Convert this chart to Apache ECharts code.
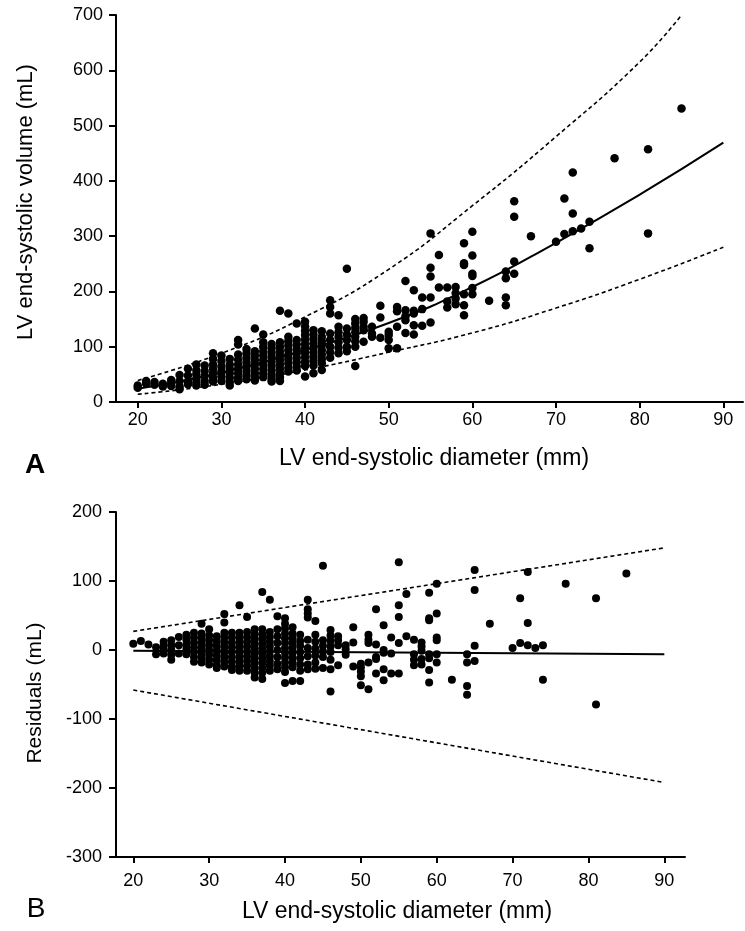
<!DOCTYPE html>
<html>
<head>
<meta charset="utf-8">
<script src="https://cdn.jsdelivr.net/npm/echarts@6/dist/echarts.min.js"></script>
<style>
  html, body { margin: 0; padding: 0; background: #fff; }
  #chart { width: 745px; height: 931px; }
</style>
</head>
<body>
<div id="chart"></div>
<script>
// panel A: LV end-systolic volume by diameter (one list of volumes per diameter)
const diamA = [20, 21, 22, 23, 24, 25, 26, 27, 28, 29, 30, 31, 32, 33, 34, 35, 36, 37, 38, 39, 40,
  41, 42, 43, 44, 45, 46, 47, 48, 49, 50, 51, 52, 53, 54, 55, 56, 57, 58, 59, 60,
  62, 64, 65, 67, 70, 71, 72, 73, 74, 77, 81, 85];
const volumeA = [
  [30, 26], [38, 33], [36, 31], [33, 28], [40, 34, 29], [49, 38, 28, 23], [60, 48, 37, 32],
  [68, 58, 50, 42, 35, 30], [66, 56, 47, 38, 31], [88, 78, 68, 60, 52, 44, 37],
  [84, 74, 64, 55, 46, 38], [78, 68, 60, 52, 44, 36, 30], [112, 104, 86, 77, 68, 60, 52, 44, 38],
  [96, 88, 80, 72, 64, 56, 48, 41], [133, 92, 84, 76, 68, 60, 52, 45, 39],
  [122, 108, 100, 92, 84, 76, 68, 60, 52, 45], [105, 97, 89, 81, 73, 65, 57, 49, 42, 37],
  [165, 108, 100, 92, 84, 76, 68, 60, 52, 45, 38], [160, 118, 110, 102, 94, 86, 78, 70, 62, 55],
  [142, 112, 104, 96, 88, 80, 72, 64, 57], [145, 137, 129, 121, 113, 105, 97, 89, 81, 73, 65, 46],
  [130, 122, 114, 106, 98, 90, 82, 74, 66, 52], [128, 118, 110, 102, 94, 86, 78, 70, 58],
  [184, 172, 160, 124, 112, 100, 90, 80], [157, 136, 126, 118, 108, 98, 88],
  [241, 133, 122, 112, 100, 92], [150, 142, 134, 126, 118, 110, 100, 65],
  [152, 145, 136, 130, 109], [136, 124, 118], [174, 153, 116], [127, 121, 112, 97],
  [172, 164, 136, 97], [219, 166, 155, 148, 125], [202, 165, 160, 139, 122], [189, 168, 138],
  [305, 243, 227, 189, 144], [266, 207], [207, 182, 171], [208, 197, 187, 177],
  [287, 251, 248, 195, 175, 157], [308, 265, 232, 228, 206, 195],
  [183], [236, 224, 189, 175], [363, 335, 254, 232], [300], [290], [368, 304], [415, 341, 309],
  [314], [326, 278], [441], [457, 305], [531]
];

const fitDiamA = [20, 30, 40, 50, 60, 70, 80, 90];
const fitVolA = [24, 53, 94, 143, 208, 288, 375, 469];
const lowerVolA = [14, 32, 58, 90, 125, 170, 222, 280];
const upperDiamA = [20, 30, 40, 50, 60, 70, 80, 85];
const upperVolA = [39, 88, 154, 240, 355, 480, 615, 700];

// panel B: residuals by diameter
const diamB = [20, 21, 22, 23, 24, 25, 26, 27, 28, 29, 30, 31, 32, 33, 34, 35, 36, 37, 38, 39, 40,
  41, 42, 43, 44, 45, 46, 47, 48, 49, 50, 51, 52, 53, 54, 55, 56, 57, 58, 59, 60,
  62, 64, 65, 67, 70, 71, 72, 73, 74, 77, 81, 85];
const residualB = [
  [9], [13], [8], [4, -6], [12, 6, 0, -5], [14, 7, 0, -7, -14], [19, 7, -5],
  [22, 15, 8, 1, -6], [25, 18, 11, 4, -3, -10, -17], [38, 24, 17, 10, 3, -4, -11, -18],
  [30, 21, 14, 7, 0, -7, -14, -21], [20, 13, 6, -1, -8, -15, -22, -26],
  [52, 40, 25, 18, 11, 4, -3, -10, -17, -24], [25, 18, 11, 4, -3, -10, -17, -24, -29],
  [65, 25, 18, 11, 4, -3, -10, -17, -24, -30], [48, 26, 19, 12, 5, -2, -9, -16, -23, -30],
  [30, 23, 16, 9, 2, -5, -12, -19, -26, -33, -40], [84, 30, 23, 16, 9, 2, -5, -12, -19, -26, -33, -42],
  [73, 26, 19, 12, 5, -2, -9, -16, -23, -30], [49, 30, 20, 10, 0, -10, -20, -28],
  [46, 38, 31, 24, 17, 10, 3, -4, -11, -18, -25, -32, -48], [33, 24, 17, 10, 3, -4, -11, -18, -25, -45],
  [22, 13, 6, -3, -12, -21, -30, -45], [73, 59, 53, 47, 15, 3, -9, -21, -28],
  [42, 22, 12, 2, -8, -18, -27], [122, 14, 6, -2, -10, -26], [29, 21, 13, 5, -3, -14, -28, -60],
  [20, 14, 7, -22], [7, 1, -7], [33, 11, -24], [-20, -25, -31, -38, -51], [22, 15, 10, -18, -57],
  [59, 8, -10, -13, -34], [36, 0, -4, -28, -44], [18, -5, -34], [127, 65, 48, 10, -34], [81, 20],
  [15, -6, -14, -22], [11, 5, -1, -13, -21], [83, 46, 43, -6, -12, -29, -47], [96, 53, 18, 14, -6, -18],
  [-43], [-6, -18, -52, -65], [116, 87, 6, -16], [38], [3], [75, 10], [113, 39, 7], [3], [7, -43],
  [96], [75, -79], [111]
];

// panel B regression line and limits (straight, ends only)
const lineDiamB = [20, 90];
const fitResB = [-1, -6];
const upperResB = [27, 148];
const lowerResB = [-58, -192];

const xTicks = [20, 30, 40, 50, 60, 70, 80, 90];

function points(xs, lists) {
  const out = [];
  xs.forEach((x, i) => lists[i].forEach(v => out.push([x, v])));
  return out;
}
function pairs(xs, ys) {
  return xs.map((x, i) => [x, ys[i]]);
}

const ink = '#000';
const font = '"Liberation Sans", Arial, Helvetica, sans-serif';

function xAxisOf(grid, min, max, margin) {
  return {
    type: 'value', gridIndex: grid, min: min, max: max,
    splitLine: { show: false },
    axisLine: { onZero: false, lineStyle: { color: ink, width: 2 } },
    axisTick: { customValues: xTicks, length: 6, lineStyle: { color: ink, width: 2 } },
    axisLabel: { customValues: xTicks, margin: margin, color: ink, fontSize: 18, fontFamily: font }
  };
}
function yAxisOf(grid, min, max, margin) {
  return {
    type: 'value', gridIndex: grid, min: min, max: max, interval: 100,
    splitLine: { show: false },
    axisLine: { show: true, onZero: false, lineStyle: { color: ink, width: 2 } },
    axisTick: { show: true, length: 7, lineStyle: { color: ink, width: 2 } },
    axisLabel: { margin: margin, color: ink, fontSize: 18, fontFamily: font }
  };
}
function curve(data, xi, dashed, smooth) {
  return {
    type: 'line', xAxisIndex: xi, yAxisIndex: xi, data: data,
    smooth: smooth, showSymbol: false, silent: true, z: 3,
    lineStyle: { color: ink, width: dashed ? 1.6 : 2, type: dashed ? [4, 3] : 'solid' }
  };
}
function dots(data, xi, size) {
  return {
    type: 'scatter', xAxisIndex: xi, yAxisIndex: xi, data: data, symbolSize: size,
    silent: true, z: 2, itemStyle: { color: ink, opacity: 1 }
  };
}
function label(text, x, y, size, weight, rot) {
  return {
    type: 'text', x: x, y: y, rotation: rot || 0,
    style: { text: text, fill: ink, font: weight + ' ' + size + 'px ' + font,
      align: 'center', verticalAlign: 'middle' }
  };
}

const chart = echarts.init(document.getElementById('chart'));
chart.setOption({
  animation: false,
  backgroundColor: '#fff',
  grid: [
    { left: 116, top: 15, width: 627, height: 387 },
    { left: 116, top: 512, width: 569, height: 345 }
  ],
  xAxis: [xAxisOf(0, 17.4, 92.35, 9), xAxisOf(1, 17.72, 92.73, 15)],
  yAxis: [yAxisOf(0, 0, 700, 13), yAxisOf(1, -300, 200, 14)],
  series: [
    dots(points(diamA, volumeA), 0, 8.5),
    curve(pairs(fitDiamA, fitVolA), 0, false, true),
    curve(pairs(upperDiamA, upperVolA), 0, true, true),
    curve(pairs(fitDiamA, lowerVolA), 0, true, true),
    dots(points(diamB, residualB), 1, 8),
    curve(pairs(lineDiamB, fitResB), 1, false, false),
    curve(pairs(lineDiamB, upperResB), 1, true, false),
    curve(pairs(lineDiamB, lowerResB), 1, true, false)
  ],
  graphic: [
    label('LV end-systolic volume (mL)', 26, 202, 22, 'normal', Math.PI / 2),
    label('LV end-systolic diameter (mm)', 434, 459, 23, 'normal'),
    label('A', 35, 465, 28, 'bold'),
    label('Residuals (mL)', 35, 693, 21, 'normal', Math.PI / 2),
    label('LV end-systolic diameter (mm)', 397, 912, 23, 'normal'),
    label('B', 36, 909, 28, 'normal')
  ]
});
</script>
</body>
</html>
